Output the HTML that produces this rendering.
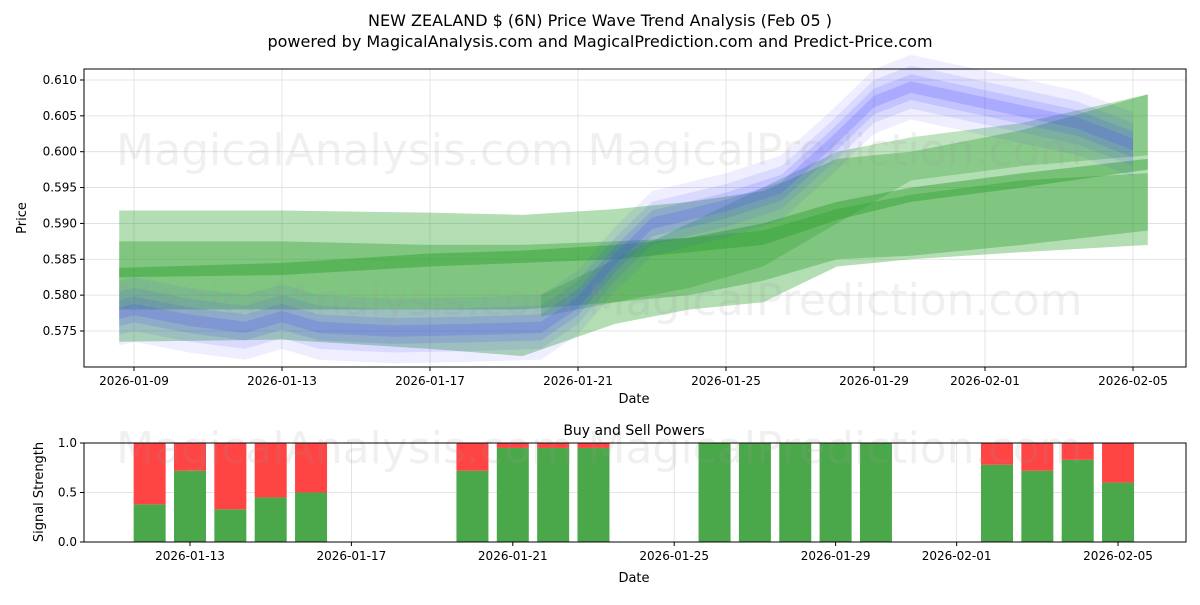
<!DOCTYPE html>
<html><head><meta charset="utf-8"><style>
body{margin:0;background:#fff;font-family:"Liberation Sans","DejaVu Sans",sans-serif}
svg text{font-family:"DejaVu Sans","Liberation Sans",sans-serif}
</style></head><body>
<svg id="c" width="1200" height="600" xmlns="http://www.w3.org/2000/svg">
<text x="600" y="26" text-anchor="middle" font-size="16">NEW ZEALAND $ (6N) Price Wave Trend Analysis (Feb 05 )</text>
<text x="600" y="47" text-anchor="middle" font-size="16">powered by MagicalAnalysis.com and MagicalPrediction.com and Predict-Price.com</text>
<g id="main"></g><g id="sub"></g>
</svg>
<script>
// main chart data (days from 2026-01-09)
const bandDays=[-0.4,4,8,10.5,13,15,17,19,21,24,27.4];
const g1Up=[0.5918,0.5918,0.5915,0.5912,0.592,0.593,0.5945,0.599,0.600,0.603,0.608];
const g1Lo=[0.5735,0.5738,0.5725,0.5715,0.576,0.578,0.579,0.584,0.585,0.586,0.587];
const g2Up=[0.5875,0.5875,0.587,0.587,0.5875,0.588,0.589,0.592,0.594,0.596,0.597];
const g2Lo=[0.578,0.578,0.578,0.578,0.579,0.580,0.582,0.585,0.5855,0.587,0.589];
const g3Up=[0.5838,0.5845,0.5858,0.5862,0.587,0.588,0.590,0.593,0.595,0.597,0.599];
const g3Lo=[0.5825,0.5828,0.584,0.5845,0.585,0.586,0.587,0.5905,0.593,0.595,0.5975];
const g4Days=[11,13,15,17,19,21,24,27.4];
const g4Up=[0.580,0.585,0.590,0.595,0.600,0.602,0.604,0.608];
const g4Lo=[0.577,0.579,0.581,0.584,0.590,0.596,0.598,0.5995];
const blueDays=[-0.4,0,1.5,3,4,5,7,9,11,12,13,14,16,17.5,18.8,20,21,23.7,25.5,27];
const blueMid=[0.5775,0.578,0.5765,0.5755,0.577,0.5755,0.575,0.5752,0.5755,0.579,0.585,0.590,0.5925,0.595,0.601,0.607,0.609,0.606,0.604,0.601];
const yTicks=[0.575,0.580,0.585,0.590,0.595,0.600,0.605,0.610];
const xTickDays=[0,4,8,12,16,20,23,27];
const xTickLabels=["2026-01-09","2026-01-13","2026-01-17","2026-01-21","2026-01-25","2026-01-29","2026-02-01","2026-02-05"];
// sub chart data (days from 2026-01-09)
const barDays=[3,4,5,6,7,11,12,13,14,17,18,19,20,21,24,25,26,27];
const buyVals=[0.38,0.72,0.33,0.45,0.5,0.72,0.95,0.95,0.95,1,1,1,1,1,0.78,0.72,0.83,0.6];
const subTickDays=[4,8,12,16,20,23,27];
const subTickLabels=["2026-01-13","2026-01-17","2026-01-21","2026-01-25","2026-01-29","2026-02-01","2026-02-05"];
const subYTicks=[0,0.5,1];

const NS="http://www.w3.org/2000/svg";
function mk(p,t,a){const e=document.createElementNS(NS,t);for(const k in a)e.setAttribute(k,a[k]);p.appendChild(e);return e;}
const M=document.getElementById('main'),S=document.getElementById('sub');
const L=84,R=1186,T=69,B=367;
const X=d=>134+d*37.0, Y=v=>331-(v-0.575)/0.005*35.86;
xTickDays.forEach(d=>{const l=mk(M,'line',{x1:X(d),x2:X(d),y1:T,y2:B,stroke:'#ddd','stroke-width':0.8});});
yTicks.forEach(v=>{const l=mk(M,'line',{x1:L,x2:R,y1:Y(v),y2:Y(v),stroke:'#ddd','stroke-width':0.8});});
function band(days,up,lo,fill,op,name){
 let pts=days.map((d,i)=>X(d)+','+Y(up[i])).concat(days.map((d,i)=>X(d)+','+Y(lo[i])).reverse());
 const p=mk(M,'polygon',{points:pts.join(' '),fill:fill,'fill-opacity':op});
 }
band(bandDays,g1Up,g1Lo,'#2ca02c',0.36,'green-band-outer');
band(bandDays,g2Up,g2Lo,'#2ca02c',0.38,'green-band-inner');
band(g4Days,g4Up,g4Lo,'#2ca02c',0.3,'green-band-upper');
band(bandDays,g3Up,g3Lo,'#2ca02c',0.45,'green-band-core');
[[0.0045,0.09],[0.003,0.11],[0.0018,0.15],[0.0008,0.2]].forEach(([w,o])=>{
 band(blueDays,blueMid.map(v=>v+w),blueMid.map(v=>v-w),'#4444ff',o,'blue-band');});
[[345,150],[835,150],[345,300],[835,300]].forEach(([x,y],i)=>{const t=mk(M,'text',{x:x,y:y+15,'text-anchor':'middle','font-size':44,fill:'#999','fill-opacity':0.15});t.textContent=i%2?'MagicalPrediction.com':'MagicalAnalysis.com';});
const fr=mk(M,'rect',{x:L,y:T,width:R-L,height:B-T,fill:'none',stroke:'#000','stroke-width':1});
xTickDays.forEach((d,i)=>{mk(M,'line',{x1:X(d),x2:X(d),y1:B,y2:B+4,stroke:'#000'});const t=mk(M,'text',{x:X(d),y:B+18,'text-anchor':'middle','font-size':12});t.textContent=xTickLabels[i];});
yTicks.forEach(v=>{mk(M,'line',{x1:L-4,x2:L,y1:Y(v),y2:Y(v),stroke:'#000'});const t=mk(M,'text',{x:L-7,y:Y(v)+4,'text-anchor':'end','font-size':12});t.textContent=v.toFixed(3);});
let t=mk(M,'text',{x:634,y:403,'text-anchor':'middle','font-size':13});t.textContent='Date';
t=mk(M,'text',{x:26,y:218,'text-anchor':'middle','font-size':13,transform:'rotate(-90 26 218)'});t.textContent='Price';
const sT=443,sB=542;const SX=d=>190+(d-4)*40.35, SY=v=>sB-v*(sB-sT);
subTickDays.forEach(d=>{mk(S,'line',{x1:SX(d),x2:SX(d),y1:sT,y2:sB,stroke:'#ddd','stroke-width':0.8});});
subYTicks.forEach(v=>{mk(S,'line',{x1:L,x2:R,y1:SY(v),y2:SY(v),stroke:'#ddd','stroke-width':0.8});});
barDays.forEach((d,i)=>{const x=SX(d)-16;
 const g=mk(S,'rect',{x:x,y:SY(buyVals[i]),width:32,height:SY(0)-SY(buyVals[i]),fill:'#4aa84a'});
 const r=mk(S,'rect',{x:x,y:SY(1),width:32,height:SY(buyVals[i])-SY(1),fill:'#ff4444'});});
[[345,448],[835,448]].forEach(([x,y],i)=>{const w=mk(S,'text',{x:x,y:y+15,'text-anchor':'middle','font-size':44,fill:'#999','fill-opacity':0.15});w.textContent=i?'MagicalPrediction.com':'MagicalAnalysis.com';});
const f2=mk(S,'rect',{x:L,y:sT,width:R-L,height:sB-sT,fill:'none',stroke:'#000'});
subTickDays.forEach((d,i)=>{mk(S,'line',{x1:SX(d),x2:SX(d),y1:sB,y2:sB+4,stroke:'#000'});const q=mk(S,'text',{x:SX(d),y:sB+18,'text-anchor':'middle','font-size':12});q.textContent=subTickLabels[i];});
subYTicks.forEach(v=>{mk(S,'line',{x1:L-4,x2:L,y1:SY(v),y2:SY(v),stroke:'#000'});const q=mk(S,'text',{x:L-7,y:SY(v)+4,'text-anchor':'end','font-size':12});q.textContent=v.toFixed(1);});
t=mk(S,'text',{x:634,y:435,'text-anchor':'middle','font-size':14});t.textContent='Buy and Sell Powers';
t=mk(S,'text',{x:634,y:582,'text-anchor':'middle','font-size':13});t.textContent='Date';
t=mk(S,'text',{x:43,y:492,'text-anchor':'middle','font-size':13,transform:'rotate(-90 43 492)'});t.textContent='Signal Strength';
</script>
</body></html>
